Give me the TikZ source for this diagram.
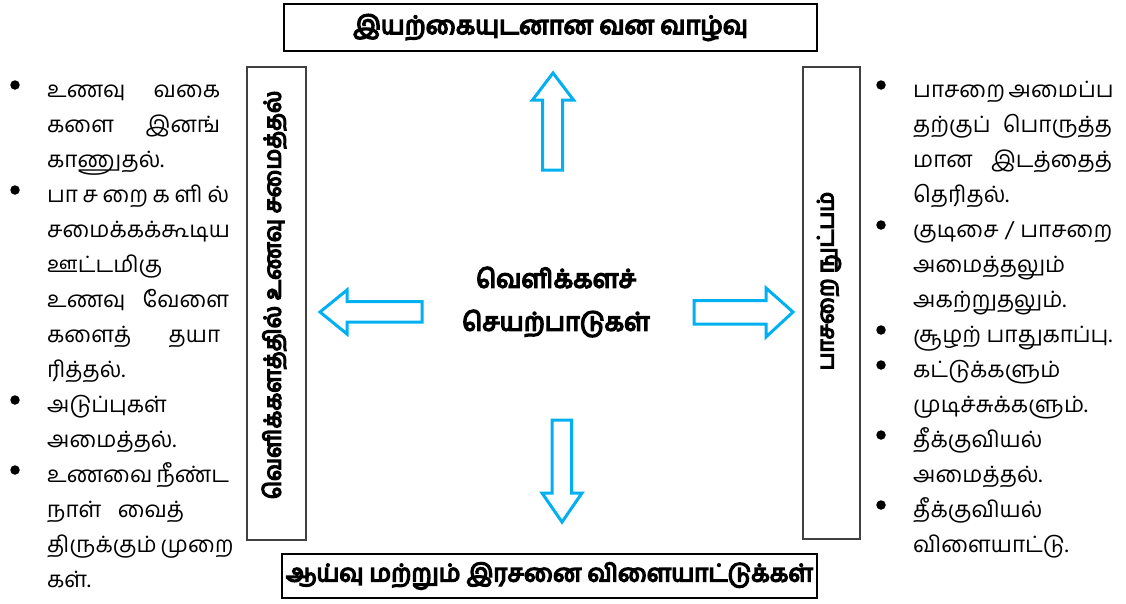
\documentclass[tikz,border=0pt]{standalone}
\usepackage{fontspec}
\newfontfamily\tamil[Script=Tamil]{Hind Madurai}
\newfontfamily\tamilbf[Script=Tamil, FakeBold=6]{Hind Madurai}
\definecolor{arrowblue}{HTML}{00B0F0}
\definecolor{boxgray}{HTML}{404040}
\tikzset{
  listtext/.style={anchor=base west, inner sep=0pt, font=\tamil\fontsize{22.5}{26}\selectfont},
  bulletdot/.style={circle, fill=black, inner sep=0pt, minimum size=9.5pt},
  headbox/.style={draw=black, line width=2pt, inner sep=0pt},
  sidebox/.style={draw=boxgray, line width=1.3pt, inner sep=0pt},
  sidelabel/.style={rotate=90, inner sep=0pt, font=\tamilbf\fontsize{23.3}{26}\selectfont},
  hub/.style={align=center, inner sep=0pt, font=\tamilbf\fontsize{25.5}{43}\selectfont},
  blockarrow/.style={draw=arrowblue, line width=3pt, fill=white, line join=miter}
}
\newcommand{\jl}[2]{\makebox[#1pt][s]{#2}}
\begin{document}
\begin{tikzpicture}[x=1pt,y=-1pt]
  \useasboundingbox (0,0) rectangle (1126,603);

  % outer boxes
  \node[headbox, minimum width=533pt, minimum height=47pt, font=\tamilbf\fontsize{25.3}{28}\selectfont] (top) at (550.5,27.5) {இயற்கையுடனான வன வாழ்வு};
  \node[headbox, minimum width=535pt, minimum height=44pt, font=\tamilbf\fontsize{24.3}{28}\selectfont] (bottom) at (549.5,576) {ஆய்வு மற்றும் இரசனை விளையாட்டுக்கள்};
  \node[sidebox, minimum width=59pt, minimum height=473pt] (lbox) at (276.5,303.5) {};
  \node[sidelabel] (llabel) at (274,295) {வெளிக்களத்தில் உணவு சமைத்தல்};
  \node[sidebox, minimum width=57pt, minimum height=472pt] (rbox) at (831.5,303) {};
  \node[sidelabel, font=\tamilbf\fontsize{22.5}{26}\selectfont] (rlabel) at (829,281) {பாசறை நுட்பம்};

  % centre
  \node[hub] (hub) at (556,302) {வெளிக்களச்\\செயற்பாடுகள்};

  % block arrows
  \draw[blockarrow] (553,73) -- (573.5,100) -- (562.5,100) -- (562.5,170) -- (542.5,170) -- (542.5,100) -- (532.5,100) -- cycle;
  \draw[blockarrow] (562,522) -- (582,493) -- (571.5,493) -- (571.5,420) -- (552,420) -- (552,493) -- (542,493) -- cycle;
  \draw[blockarrow] (320,312) -- (347,290) -- (347,301.5) -- (422,301.5) -- (422,322) -- (347,322) -- (347,334) -- cycle;
  \draw[blockarrow] (793,312) -- (766,288) -- (766,300.5) -- (694,300.5) -- (694,324) -- (766,324) -- (766,337) -- cycle;

  % left list
  \foreach \i in {0,3,9,11} \node[bulletdot] at (15,85+35*\i) {};
  \node[listtext] (l0) at (47,97) {\jl{173}{உணவு வகை}};
  \node[listtext] (l1) at (47,132) {\jl{173}{களை இனங்}};
  \node[listtext] (l2) at (47,167) {காணுதல்.};
  \node[listtext] (l3) at (47,202) {\jl{182}{பா\hfill ச\hfill றை\hfill க\hfill ளி\hfill ல்}};
  \node[listtext] (l4) at (47,237) {சமைக்கக்கூடிய};
  \node[listtext] (l5) at (47,272) {ஊட்டமிகு};
  \node[listtext] (l6) at (47,307) {\jl{182}{உணவு வேளை}};
  \node[listtext] (l7) at (47,342) {\jl{173}{களைத் தயா}};
  \node[listtext] (l8) at (47,377) {ரித்தல்.};
  \node[listtext] (l9) at (47,412) {அடுப்புகள்};
  \node[listtext] (l10) at (47,447) {அமைத்தல்.};
  \node[listtext] (l11) at (47,482) {\jl{182}{உணவை நீண்ட}};
  \node[listtext] (l12) at (47,517) {\jl{137}{நாள் வைத்}};
  \node[listtext] (l13) at (47,552) {\jl{182}{திருக்கும் முறை}};
  \node[listtext] (l14) at (47,587) {கள்.};

  % right list
  \foreach \i in {0,4,7,8,10,12} \node[bulletdot] at (881,85+35*\i) {};
  \node[listtext] (r0) at (913,97) {\jl{199}{பாசறை அமைப்ப}};
  \node[listtext] (r1) at (913,132) {\jl{199}{தற்குப் பொருத்த}};
  \node[listtext] (r2) at (913,167) {\jl{199}{மான இடத்தைத்}};
  \node[listtext] (r3) at (913,202) {தெரிதல்.};
  \node[listtext] (r4) at (913,237) {\jl{199}{குடிசை / பாசறை}};
  \node[listtext] (r5) at (913,272) {அமைத்தலும்};
  \node[listtext] (r6) at (913,307) {அகற்றுதலும்.};
  \node[listtext] (r7) at (913,342) {சூழற் பாதுகாப்பு.};
  \node[listtext] (r8) at (913,377) {கட்டுக்களும்};
  \node[listtext] (r9) at (913,412) {முடிச்சுக்களும்.};
  \node[listtext] (r10) at (913,447) {தீக்குவியல்};
  \node[listtext] (r11) at (913,482) {அமைத்தல்.};
  \node[listtext] (r12) at (913,517) {தீக்குவியல்};
  \node[listtext] (r13) at (913,552) {விளையாட்டு.};
\end{tikzpicture}
\end{document}
